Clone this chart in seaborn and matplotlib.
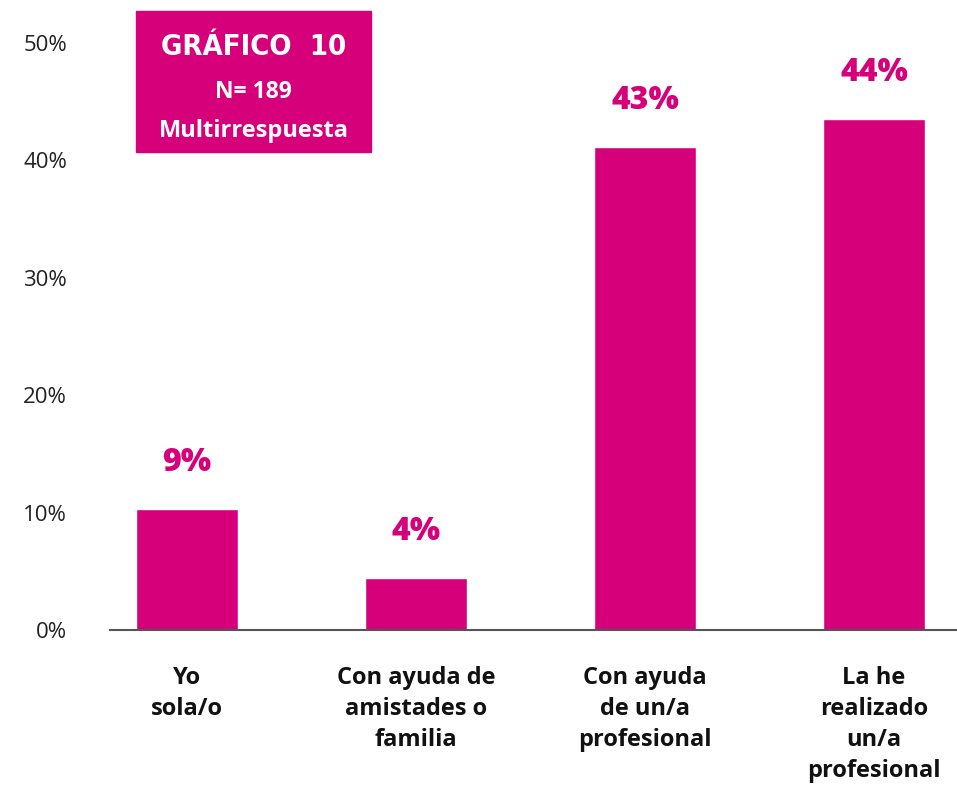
import matplotlib
matplotlib.use("Agg")
import matplotlib.pyplot as plt
import seaborn as sns
import pandas as pd
from matplotlib.patches import Rectangle

categories = ["Yo\nsola/o", "Con ayuda de\namistades o\nfamilia", "Con ayuda\nde un/a\nprofesional",
              "La he\nrealizado\nun/a\nprofesional"]
values = [10.3, 4.4, 41.1, 43.5]
value_labels = ["9%", "4%", "43%", "44%"]
yticks = [0, 10, 20, 30, 40, 50]
ytick_labels = ["0%", "10%", "20%", "30%", "40%", "50%"]
box_title = "GRÁFICO  10"
box_n = "N= 189"
box_note = "Multirrespuesta"

MAGENTA = "#D6007A"

sns.set_theme(style="white")
plt.rcParams['font.family'] = ['Open Sans', 'DejaVu Sans']

W, H = 957, 789
fig = plt.figure(figsize=(W / 100, H / 100), dpi=100)
ax = fig.add_axes([110 / W, (H - 630) / H, (957 - 110) / W, (630 - 43) / H])

df = pd.DataFrame({"cat": categories, "val": values})
sns.barplot(data=df, x="cat", y="val", color=MAGENTA, saturation=1, width=0.445, ax=ax)

ax.set_xlim(-0.336, 3.362)
ax.set_ylim(0, 50)
ax.set_yticks(yticks)
ax.set_yticklabels(ytick_labels, fontsize=16, color="#222222")
ax.tick_params(axis="y", length=0, pad=31)
ax.tick_params(axis="x", length=0, pad=26)
for lab in ax.get_xticklabels():
    lab.set_fontsize(17)
    lab.set_fontweight("bold")
    lab.set_color("#111111")
    lab.set_linespacing(1.38)
ax.set_xlabel("")
ax.set_ylabel("")
for s in ["top", "right", "left"]:
    ax.spines[s].set_visible(False)
ax.spines["bottom"].set_color("#555555")
ax.spines["bottom"].set_linewidth(1.5)

# value labels, ~47 px above bar tops
px_per_unit = (630 - 43) / 50
for i, (v, t) in enumerate(zip(values, value_labels)):
    ax.text(i, v + 46 / px_per_unit, t, ha="center", va="center",
            fontsize=23, fontweight="heavy", color=MAGENTA)

# title box
fig.patches.append(Rectangle((136 / W, (H - 152) / H), (371 - 136) / W, (152 - 11) / H,
                             transform=fig.transFigure, color=MAGENTA, zorder=5))
cx = (136 + 371) / 2 / W
fig.text(cx, (H - 47) / H, box_title, ha="center", va="center", fontsize=21,
         fontweight="bold", fontstretch="condensed", color="white", zorder=6,
         family=["DejaVu Sans"])
fig.text(cx, (H - 92) / H, box_n, ha="center", va="center", fontsize=16.5,
         fontweight="bold", color="white", zorder=6)
fig.text(cx, (H - 131) / H, box_note, ha="center", va="center", fontsize=17,
         fontweight="bold", color="white", zorder=6)

fig.savefig("out.png", dpi=100)
